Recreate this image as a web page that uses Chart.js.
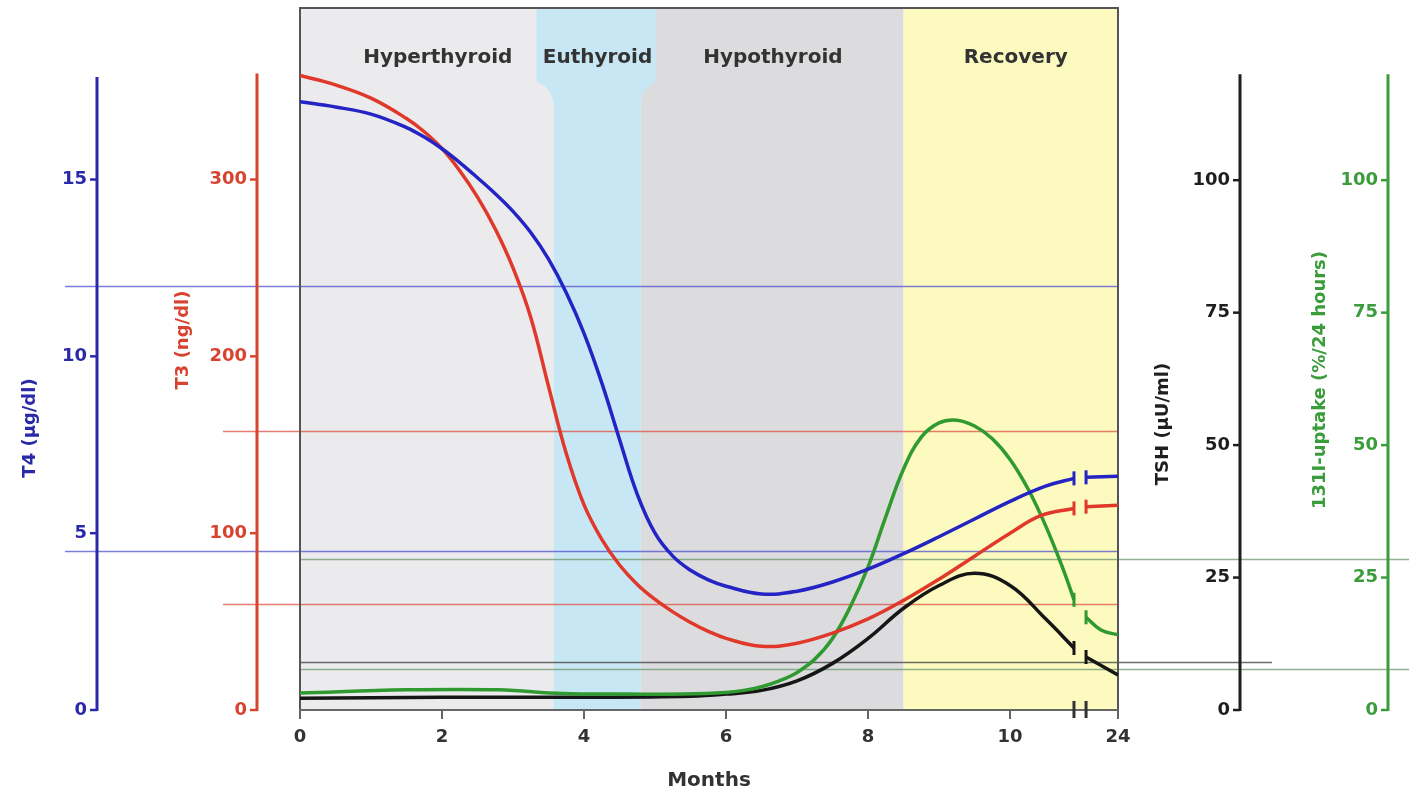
<!DOCTYPE html>
<html>
<head>
<meta charset="utf-8">
<script src="https://cdn.jsdelivr.net/npm/chart.js@4.4.1/dist/chart.umd.min.js"></script>
<style>
  html, body { margin: 0; padding: 0; background: #fff; }
  #wrap { width: 1409px; height: 793px; position: relative; }
</style>
</head>
<body>
<div id="wrap"><canvas id="thyroidChart"></canvas></div>
<script>
// x axis: months, the last tick sits after the axis break and reads "24"
const xTickValues = [0, 2, 4, 6, 8, 10, 11.52];
const xTickLabels = ["0", "2", "4", "6", "8", "10", "24"];
const breakMonths = [10.90, 11.07];

// ticks of the four value axes
const t4Ticks = [0, 5, 10, 15];
const t3Ticks = [0, 100, 200, 300];
const tshTicks = [0, 25, 50, 75, 100];
const uptakeTicks = [0, 25, 50, 75, 100];

// phases shown behind the curves
const regionNames = ["Hyperthyroid", "Euthyroid", "Hypothyroid", "Recovery"];
const regionStart = [0, 3.57, 4.80, 8.50];
const regionEnd = [3.57, 4.80, 8.50, 11.52];
const euthyroidHead = [3.33, 5.01];
const regionLabelAt = [1.94, 4.19, 6.66, 10.08];
const regionColors = ["#ebebed", "#c8e7f4", "#dcdcde", "#fcfabf"];

// T4 (µg/dl)
const t4Months = [0, 0.5, 1.0, 1.5, 1.75, 2.0, 2.25, 2.5, 2.75, 3.0, 3.25, 3.5, 3.75, 4.0, 4.25, 4.5, 4.75, 5.0, 5.25, 5.5, 5.75, 6.0, 6.5, 7.0, 7.5, 8.0, 8.5, 9.0, 9.5, 10.0, 10.5, 10.9, 10.98, 11.07, 11.52];
const t4Values = [17.2, 17.05, 16.85, 16.47, 16.2, 15.87, 15.48, 15.05, 14.6, 14.1, 13.5, 12.75, 11.8, 10.65, 9.25, 7.65, 6.1, 5.0, 4.35, 3.95, 3.68, 3.5, 3.28, 3.36, 3.62, 3.98, 4.42, 4.9, 5.4, 5.9, 6.33, 6.55, null, 6.58, 6.61];

// T3 (ng/dl)
const t3Months = [0, 0.5, 1.0, 1.5, 1.75, 2.0, 2.25, 2.5, 2.75, 3.0, 3.25, 3.5, 3.75, 4.0, 4.25, 4.5, 4.75, 5.0, 5.25, 5.5, 5.75, 6.0, 6.5, 7.0, 7.5, 8.0, 8.5, 9.0, 9.5, 10.0, 10.44, 10.9, 10.98, 11.07, 11.52];
const t3Values = [358.8, 353.5, 346, 334.5, 327, 317.5, 305, 290, 272, 250, 222, 183, 145, 116, 96.5, 82, 71, 62.5, 55.5, 49.5, 44.5, 40.5, 36, 37.8, 43.5, 51.5, 62, 74, 87, 100, 110, 114, null, 115, 115.8];

// 131I uptake (%/24 hours)
const uptakeMonths = [0, 1.5, 2.8, 3.7, 4.6, 5.4, 6.0, 6.25, 6.5, 6.75, 7.0, 7.25, 7.5, 7.75, 8.0, 8.25, 8.5, 8.75, 9.0, 9.25, 9.5, 9.75, 10.0, 10.25, 10.5, 10.75, 10.9, 10.98, 11.07, 11.28, 11.52];
const uptakeValues = [3.2, 3.8, 3.8, 3.1, 3.0, 3.0, 3.3, 3.7, 4.4, 5.5, 7.1, 9.6, 13.5, 19.5, 27, 36.5, 45.5, 51.5, 54.2, 54.7, 53.6, 51.2, 47.3, 41.8, 34.8, 26.5, 20.8, null, 17.5, 15.1, 14.2];

// TSH (µU/ml)
const tshMonths = [0, 2.0, 4.0, 5.5, 6.0, 6.5, 7.0, 7.5, 8.0, 8.5, 9.0, 9.5, 10.0, 10.5, 10.9, 10.98, 11.07, 11.52];
const tshValues = [2.2, 2.4, 2.4, 2.6, 3.0, 3.7, 5.5, 8.8, 13.5, 19.2, 23.5, 25.8, 23.5, 17.2, 11.7, null, 10, 6.6];

// normal-range lines
const refAxis = ["yT4", "yT4", "yT3", "yT3", "yTSH", "yUp", "yUp"];
const refValues = [12, 4.5, 158, 60, 9, 28.5, 7.8];

const BLUE = "#2424c4";
const RED = "#e0382a";
const GREEN = "#2f9a2f";
const BLACK = "#161616";

// where each side axis is drawn, and how its lines run
const sideAxes = [
  { id: "yT4", x: 97, top: 17.9, color: "#2a2aa8", title: "T4 (µg/dl)", titleX: 30, titleY: 428 },
  { id: "yT3", x: 257, top: 360, color: "#d8432f", title: "T3 (ng/dl)", titleX: 183, titleY: 340 },
  { id: "yTSH", x: 1240, top: 120, color: "#1e1e1e", title: "TSH (µU/ml)", titleX: 1163, titleY: 424 },
  { id: "yUp", x: 1388, top: 120, color: "#3a9c3a", title: "131I-uptake (%/24 hours)", titleX: 1320, titleY: 380 },
];
const refStyle = [
  { color: "rgba(80,80,205,0.75)", from: 65, to: "right" },
  { color: "rgba(80,80,205,0.75)", from: 65, to: "right" },
  { color: "rgba(222,80,70,0.75)", from: 223, to: "right" },
  { color: "rgba(222,80,70,0.75)", from: 223, to: "right" },
  { color: "rgba(60,60,60,0.75)", from: "left", to: 1272 },
  { color: "rgba(110,150,110,0.75)", from: "left", to: 1409 },
  { color: "rgba(110,150,110,0.75)", from: "left", to: 1409 },
];

function nextToGap(values, i) {
  if (values[i] === null) return false;
  return values[i - 1] === null || values[i + 1] === null;
}

function curve(label, months, values, color, axis) {
  return {
    label: label,
    yAxisID: axis,
    data: months.map((m, i) => ({ x: m, y: values[i] })),
    borderColor: color,
    borderWidth: 3.5,
    fill: false,
    spanGaps: false,
    tension: 0.4,
    pointStyle: "line",
    pointRotation: 90,
    pointRadius: (ctx) => (nextToGap(values, ctx.dataIndex) ? 7 : 0),
    pointHoverRadius: 0,
    pointBorderWidth: 3,
    pointBorderColor: color,
    pointBackgroundColor: color,
  };
}

// background phases, labels, frame and normal-range lines
const phasePlugin = {
  id: "phases",
  beforeDraw(chart) {
    const { ctx, chartArea: a, scales } = chart;
    const x = scales.x;
    ctx.save();
    regionNames.forEach((name, i) => {
      if (i === 1) return;
      const x0 = x.getPixelForValue(regionStart[i]);
      const x1 = x.getPixelForValue(regionEnd[i]);
      ctx.fillStyle = regionColors[i];
      ctx.fillRect(x0, a.top, x1 - x0, a.bottom - a.top);
    });

    // euthyroid band is wider behind its label
    const tl = x.getPixelForValue(euthyroidHead[0]);
    const tr = x.getPixelForValue(euthyroidHead[1]);
    const bl = x.getPixelForValue(regionStart[1]);
    const br = x.getPixelForValue(regionEnd[1]);
    const yA = a.top + 74, yB = a.top + 98;
    ctx.fillStyle = regionColors[1];
    ctx.beginPath();
    ctx.moveTo(tl, a.top);
    ctx.lineTo(tr, a.top);
    ctx.lineTo(tr, yA);
    ctx.quadraticCurveTo(br, yA + 6, br, yB);
    ctx.lineTo(br, a.bottom);
    ctx.lineTo(bl, a.bottom);
    ctx.lineTo(bl, yB);
    ctx.quadraticCurveTo(bl, yA + 6, tl, yA);
    ctx.closePath();
    ctx.fill();

    ctx.fillStyle = "#333";
    ctx.font = "bold 20px 'DejaVu Sans'";
    ctx.textAlign = "center";
    ctx.textBaseline = "middle";
    regionNames.forEach((name, i) => {
      ctx.fillText(name, x.getPixelForValue(regionLabelAt[i]), a.top + 50);
    });

    refValues.forEach((v, i) => {
      const st = refStyle[i];
      const py = Math.round(scales[refAxis[i]].getPixelForValue(v)) + 0.5;
      const x0 = st.from === "left" ? a.left : st.from;
      const x1 = st.to === "right" ? a.right : st.to;
      ctx.strokeStyle = st.color;
      ctx.lineWidth = 1.5;
      ctx.beginPath();
      ctx.moveTo(x0, py);
      ctx.lineTo(x1, py);
      ctx.stroke();
    });

    ctx.strokeStyle = "#555";
    ctx.lineWidth = 2;
    ctx.beginPath();
    ctx.moveTo(a.left, a.bottom);
    ctx.lineTo(a.left, a.top);
    ctx.lineTo(a.right, a.top);
    ctx.lineTo(a.right, a.bottom);
    ctx.stroke();
    ctx.restore();
  },
};

// the four value axes stand apart from the plot, so they are drawn here from their scales
const sideAxisPlugin = {
  id: "sideAxes",
  afterDraw(chart) {
    const { ctx, scales } = chart;
    ctx.save();
    sideAxes.forEach((ax) => {
      const s = scales[ax.id];
      const y0 = s.getPixelForValue(0);
      const yTop = s.getPixelForValue(ax.top);
      ctx.strokeStyle = ax.color;
      ctx.fillStyle = ax.color;
      ctx.lineWidth = 3;
      ctx.beginPath();
      ctx.moveTo(ax.x, yTop);
      ctx.lineTo(ax.x, y0 + 1);
      ctx.stroke();
      ctx.lineWidth = 2.5;
      ctx.font = "bold 18px 'DejaVu Sans'";
      ctx.textAlign = "right";
      ctx.textBaseline = "middle";
      s.ticks.forEach((t) => {
        const py = s.getPixelForValue(t.value);
        ctx.beginPath();
        ctx.moveTo(ax.x - 7, py);
        ctx.lineTo(ax.x, py);
        ctx.stroke();
        ctx.fillText(String(t.value), ax.x - 10, py);
      });
      ctx.save();
      ctx.translate(ax.titleX, ax.titleY);
      ctx.rotate(-Math.PI / 2);
      ctx.font = "bold 18px 'DejaVu Sans'";
      ctx.textAlign = "center";
      ctx.fillText(ax.title, 0, 0);
      ctx.restore();
    });

    // axis break on the months axis
    const x = scales.x;
    const yb = chart.chartArea.bottom;
    ctx.strokeStyle = "#333";
    ctx.lineWidth = 3;
    breakMonths.forEach((m) => {
      const px = x.getPixelForValue(m);
      ctx.beginPath();
      ctx.moveTo(px, yb - 9);
      ctx.lineTo(px, yb + 8);
      ctx.stroke();
    });
    ctx.restore();
  },
};

const hiddenAxis = (max, tickValues) => ({
  type: "linear",
  display: false,
  min: 0,
  max: max,
  afterBuildTicks: (s) => {
    s.ticks = tickValues.map((v) => ({ value: v }));
  },
});

const ctx = document.getElementById("thyroidChart").getContext("2d");
new Chart(ctx, {
  type: "line",
  data: {
    datasets: [
      curve("T4", t4Months, t4Values, BLUE, "yT4"),
      curve("T3", t3Months, t3Values, RED, "yT3"),
      curve("131I-uptake", uptakeMonths, uptakeValues, GREEN, "yUp"),
      curve("TSH", tshMonths, tshValues, BLACK, "yTSH"),
    ],
  },
  options: {
    responsive: true,
    maintainAspectRatio: false,
    animation: false,
    devicePixelRatio: 1,
    layout: { padding: { left: 300, right: 291, top: 8, bottom: 0 } },
    plugins: {
      legend: { display: false },
      tooltip: { enabled: false },
    },
    scales: {
      x: {
        type: "linear",
        min: 0,
        max: xTickValues[xTickValues.length - 1],
        afterBuildTicks: (s) => {
          s.ticks = xTickValues.map((v) => ({ value: v }));
        },
        afterFit: (s) => {
          s.height = 83;
        },
        ticks: {
          autoSkip: false,
          maxRotation: 0,
          padding: 8,
          color: "#333",
          font: { family: "DejaVu Sans", size: 18, weight: "bold" },
          callback: (v, i) => xTickLabels[i],
        },
        grid: { display: true, drawOnChartArea: false, drawTicks: true, tickLength: 9, color: "#666", lineWidth: 2 },
        border: { display: true, color: "#666", width: 2 },
        title: {
          display: true,
          text: "Months",
          color: "#333",
          font: { family: "DejaVu Sans", size: 20, weight: "bold" },
          padding: { top: 0, bottom: 0 },
        },
      },
      yT4: hiddenAxis(19.85, t4Ticks),
      yT3: hiddenAxis(397, t3Ticks),
      yTSH: hiddenAxis(132.5, tshTicks),
      yUp: hiddenAxis(132.5, uptakeTicks),
    },
  },
  plugins: [phasePlugin, sideAxisPlugin],
});
</script>
</body>
</html>
